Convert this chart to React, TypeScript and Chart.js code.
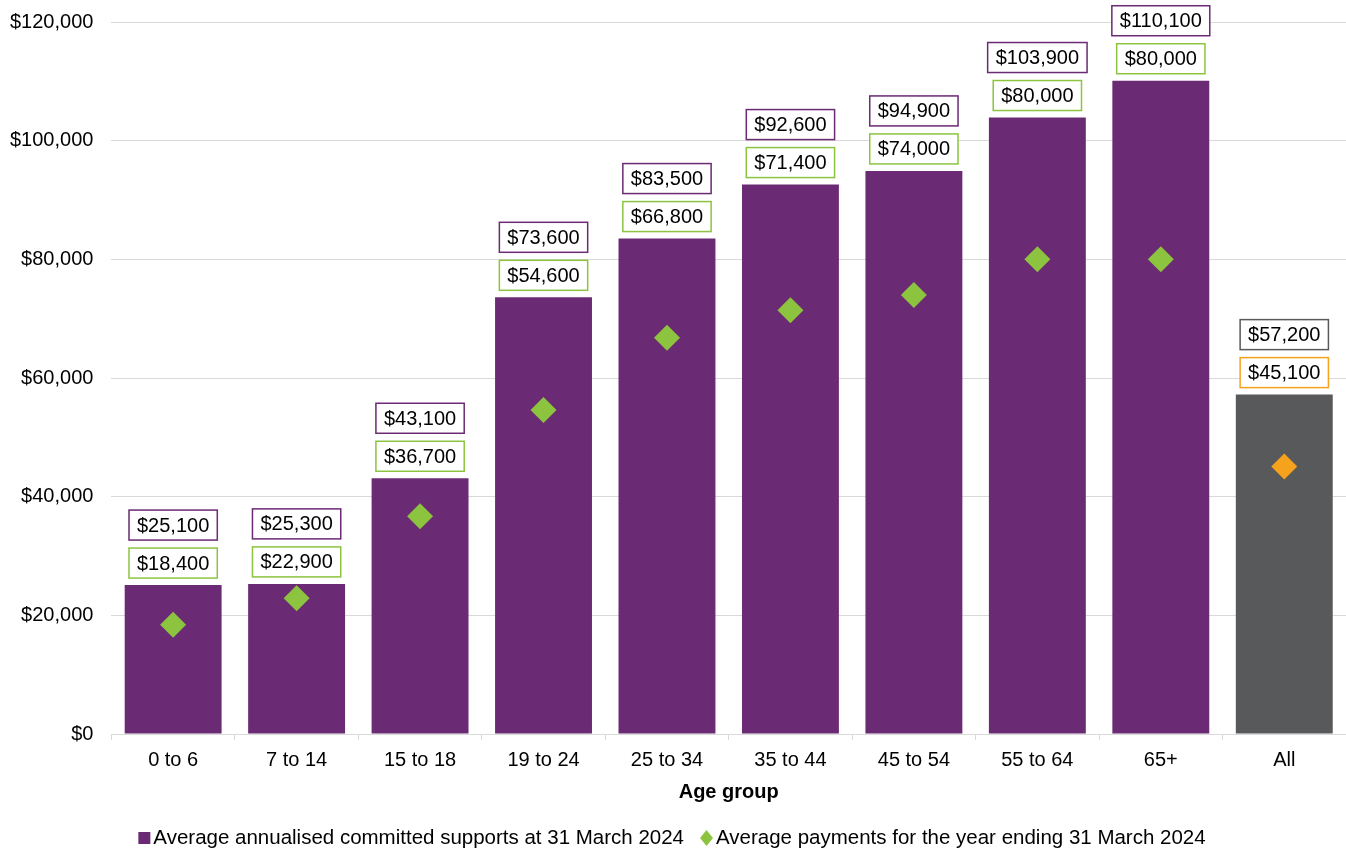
import React, { useEffect, useRef } from "react";
import { Chart, registerables } from "chart.js";

Chart.register(...registerables);

const categories = ["0 to 6", "7 to 14", "15 to 18", "19 to 24", "25 to 34", "35 to 44", "45 to 54", "55 to 64", "65+", "All"];
const committedSupports = [25100, 25300, 43100, 73600, 83500, 92600, 94900, 103900, 110100, 57200];
const averagePayments = [18400, 22900, 36700, 54600, 66800, 71400, 74000, 80000, 80000, 45100];
const committedLabel = "Average annualised committed supports at 31 March 2024";
const paymentsLabel = "Average payments for the year ending 31 March 2024";
const axisTitle = "Age group";

const PURPLE = "#6B2A74";
const GREY = "#58595B";
const GREEN = "#8CC43F";
const ORANGE = "#F7A21C";
const FONT = "Arial, 'Liberation Sans', sans-serif";

const money = (v: number) => "$" + v.toLocaleString("en-US");

const barColors = categories.map((c) => (c === "All" ? GREY : PURPLE));
const pointColors = categories.map((c) => (c === "All" ? ORANGE : GREEN));

// Boxed value labels above each bar, plus a hand-drawn legend at the bottom.
const labelPlugin = {
  id: "boxedLabels",
  afterDraw(chart: any) {
    const ctx = chart.ctx as CanvasRenderingContext2D;
    const meta = chart.getDatasetMeta(0);
    ctx.save();
    ctx.font = `20px ${FONT}`;
    ctx.textAlign = "center";
    ctx.textBaseline = "middle";
    const boxH = 30;
    const padX = 8;
    meta.data.forEach((bar: any, i: number) => {
      const isAll = categories[i] === "All";
      const x = bar.x;
      const top = bar.y;
      const rows = [
        { text: money(averagePayments[i]), color: isAll ? ORANGE : GREEN, bottom: top - 7 },
        { text: money(committedSupports[i]), color: isAll ? GREY : PURPLE, bottom: top - 7 - boxH - 8 },
      ];
      rows.forEach((r) => {
        const w = ctx.measureText(r.text).width + padX * 2;
        const y0 = r.bottom - boxH;
        ctx.fillStyle = "#ffffff";
        ctx.fillRect(x - w / 2, y0, w, boxH);
        ctx.strokeStyle = r.color;
        ctx.lineWidth = 1.5;
        ctx.strokeRect(x - w / 2, y0, w, boxH);
        ctx.fillStyle = "#000000";
        ctx.fillText(r.text, x, y0 + boxH / 2 + 1);
      });
    });

    // legend
    const ly = 838;
    ctx.font = `20.5px ${FONT}`;
    ctx.textAlign = "left";
    const t1 = ctx.measureText(committedLabel).width;
    const t2 = ctx.measureText(paymentsLabel).width;
    const total = 12 + 3 + t1 + 16 + 13 + 3 + t2;
    let cx = chart.width / 2 - total / 2 - 1;
    ctx.fillStyle = PURPLE;
    ctx.fillRect(cx, ly - 6, 12, 12);
    cx += 15;
    ctx.fillStyle = "#000";
    ctx.fillText(committedLabel, cx, ly);
    cx += t1 + 16;
    ctx.fillStyle = GREEN;
    ctx.beginPath();
    ctx.moveTo(cx + 6.5, ly - 8);
    ctx.lineTo(cx + 13, ly);
    ctx.lineTo(cx + 6.5, ly + 8);
    ctx.lineTo(cx, ly);
    ctx.closePath();
    ctx.fill();
    cx += 16;
    ctx.fillStyle = "#000";
    ctx.fillText(paymentsLabel, cx, ly);
    ctx.restore();
  },
};

export default function App() {
  const ref = useRef<HTMLCanvasElement | null>(null);

  useEffect(() => {
    if (!ref.current) return;
    const chart = new Chart(ref.current, {
      type: "bar",
      data: {
        labels: categories,
        datasets: [
          {
            type: "bar",
            label: committedLabel,
            data: committedSupports,
            backgroundColor: barColors,
            barPercentage: 0.785,
            categoryPercentage: 1,
            order: 2,
          },
          {
            type: "line",
            label: paymentsLabel,
            data: averagePayments,
            showLine: false,
            pointStyle: "rectRot",
            pointRadius: 13,
            pointHoverRadius: 13,
            pointBorderWidth: 0,
            pointBackgroundColor: pointColors,
            pointBorderColor: pointColors,
            clip: false,
            order: 1,
          },
        ],
      },
      options: {
        animation: false,
        responsive: false,
        maintainAspectRatio: false,
        layout: { padding: { top: 22, left: -8, right: 0, bottom: 48 } },
        plugins: {
          legend: { display: false },
          tooltip: { enabled: false },
        },
        scales: {
          x: {
            afterFit: (s: any) => {
              s.paddingLeft = 0;
              s.paddingRight = 0;
            },
            grid: {
              display: true,
              drawOnChartArea: false,
              drawTicks: true,
              tickLength: 6,
              color: "#D9D9D9",
              offset: true,
            },
            border: { display: true, color: "#D9D9D9" },
            ticks: { color: "#000", padding: 8, font: { size: 20, family: FONT } },
            title: {
              display: true,
              text: axisTitle,
              color: "#000",
              font: { size: 20, weight: "bold", family: FONT },
              padding: { top: 0, bottom: 0 },
            },
          },
          y: {
            afterFit: (s: any) => {
              s.paddingTop = 0;
              s.paddingBottom = 0;
            },
            min: 0,
            max: 120000,
            ticks: {
              stepSize: 20000,
              color: "#000",
              padding: 18,
              font: { size: 20, family: FONT },
              callback: (v: any) => money(Number(v)),
            },
            grid: { color: "#D9D9D9", drawTicks: false, lineWidth: 1 },
            border: { display: false },
          },
        },
      },
      plugins: [labelPlugin],
    } as any);
    // the diamonds sit well inside their categories, so they need no extra edge room
    const ctrl: any = chart.getDatasetMeta(1).controller;
    ctrl.getMaxOverflow = () => 0;
    chart.update();
    return () => chart.destroy();
  }, []);

  return (
    <div style={{ position: "fixed", left: 0, top: 0, width: 1346, height: 852, background: "#fff" }}>
      <canvas ref={ref} width={1346} height={852} style={{ display: "block" }} />
    </div>
  );
}
